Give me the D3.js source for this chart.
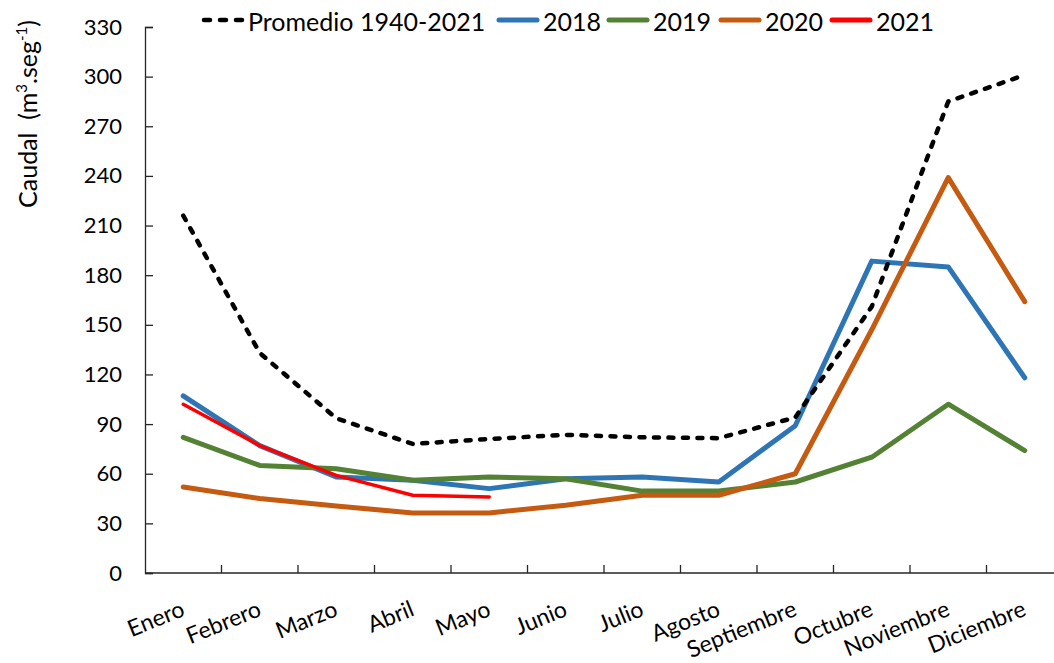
<!DOCTYPE html>
<html>
<head>
<meta charset="utf-8">
<script src="https://cdn.jsdelivr.net/npm/d3@7"></script>
<style>
  html, body { margin: 0; padding: 0; background: #fff; }
  svg { display: block; font-family: Lato, "Noto Sans", sans-serif; }
  text { white-space: pre; }
</style>
</head>
<body>
<svg id="chart" width="1054" height="663"></svg>
<script>
// Monthly flow (m3/s)
const months = ["Enero", "Febrero", "Marzo", "Abril", "Mayo", "Junio", "Julio",
  "Agosto", "Septiembre", "Octubre", "Noviembre", "Diciembre"];
const promedio = [216, 133, 93.5, 78, 81, 83.5, 82, 81.5, 94, 161, 285, 301];
const y2018 = [107, 77, 58, 56, 51, 57, 58, 55, 89, 188.5, 185, 118];
const y2019 = [82, 65, 63, 56, 58, 57, 49.5, 49.5, 55, 70, 102, 74];
const y2020 = [52, 45, 40.5, 36.3, 36.3, 41, 47, 47, 60, 147, 239, 164];
const y2021 = [102, 77, 59, 47, 46];
const yTicks = [0, 30, 60, 90, 120, 150, 180, 210, 240, 270, 300, 330];

const series = [
  { name: "2018", values: y2018, color: "#2E75B6", width: 5 },
  { name: "2019", values: y2019, color: "#548235", width: 5 },
  { name: "2020", values: y2020, color: "#C55A11", width: 5 },
  { name: "2021", values: y2021, color: "#FF0000", width: 3.5 },
  { name: "Promedio 1940-2021", values: promedio, color: "#000000", width: 4.5, dash: "5,9.5" }
];

const svg = d3.select("#chart");

const x = d3.scaleBand().domain(months).range([145, 1063]);
const y = d3.scaleLinear().domain([0, 330]).range([573, 27]);

// Y axis (ticks drawn inward)
const yAxis = svg.append("g")
  .attr("transform", "translate(145,0)")
  .call(d3.axisRight(y).tickValues(yTicks).tickSize(8).tickFormat(d3.format("d")));
yAxis.select(".domain").attr("stroke", "#262626").attr("stroke-width", 1.3);
yAxis.selectAll(".tick line").attr("stroke", "#262626").attr("stroke-width", 1.3);
yAxis.selectAll(".tick text")
  .attr("x", -23).attr("text-anchor", "end")
  .attr("font-size", 22).attr("fill", "#000")
  .attr("font-family", "Lato, 'Noto Sans', sans-serif");

// X axis: ticks at category boundaries, pointing up
const xAxisG = svg.append("g").attr("transform", "translate(0,573)");
xAxisG.append("line")
  .attr("x1", 145).attr("x2", 1063)
  .attr("stroke", "#262626").attr("stroke-width", 1.3);
xAxisG.selectAll("line.tk")
  .data(months.slice(1))
  .join("line")
  .attr("class", "tk")
  .attr("x1", d => x(d)).attr("x2", d => x(d))
  .attr("y1", 0).attr("y2", -8)
  .attr("stroke", "#262626").attr("stroke-width", 1.3);

// Rotated month labels
svg.append("g").selectAll("text")
  .data(months)
  .join("text")
  .attr("transform", d => `translate(${x(d) + x.bandwidth() / 2 - 4},${598}) rotate(-22)`)
  .attr("text-anchor", "end")
  .attr("dominant-baseline", "hanging")
  .attr("font-size", 23)
  .attr("fill", "#000")
  .text(d => d);

// Y axis title
const yt = svg.append("text")
  .attr("transform", "translate(37,114) rotate(-90)")
  .attr("text-anchor", "middle")
  .attr("font-size", 25)
  .attr("fill", "#000");
yt.append("tspan").text("Caudal  (m");
yt.append("tspan").attr("font-size", 15).attr("dy", -10).text("3");
yt.append("tspan").attr("dy", 10).text(".seg");
yt.append("tspan").attr("font-size", 15).attr("dy", -10).text("-1");
yt.append("tspan").attr("dy", 10).text(")");

// Lines
const line = d3.line()
  .x((d, i) => x(months[i]) + x.bandwidth() / 2)
  .y(d => y(d));

svg.append("g").selectAll("path")
  .data(series)
  .join("path")
  .attr("d", s => line(s.values))
  .attr("fill", "none")
  .attr("stroke", s => s.color)
  .attr("stroke-width", s => s.width)
  .attr("stroke-linejoin", "round")
  .attr("stroke-linecap", "round")
  .attr("stroke-dasharray", s => s.dash || null);

// Legend
const legendItems = [series[4], series[0], series[1], series[2], series[3]];
const legendX = [202, 497, 607, 719, 830];
const lg = svg.append("g");
legendItems.forEach((s, i) => {
  const g = lg.append("g").attr("transform", `translate(${legendX[i]},20)`);
  g.append("line")
    .attr("x1", 2).attr("x2", 40)
    .attr("stroke", s.color)
    .attr("stroke-width", s.dash ? 4.5 : 5)
    .attr("stroke-linecap", "round")
    .attr("stroke-dasharray", s.dash ? "6,10" : null);
  g.append("text")
    .attr("x", 46).attr("y", 1)
    .attr("dominant-baseline", "central")
    .attr("font-size", 25)
    .attr("fill", "#000")
    .text(s.name);
});
</script>
</body>
</html>
